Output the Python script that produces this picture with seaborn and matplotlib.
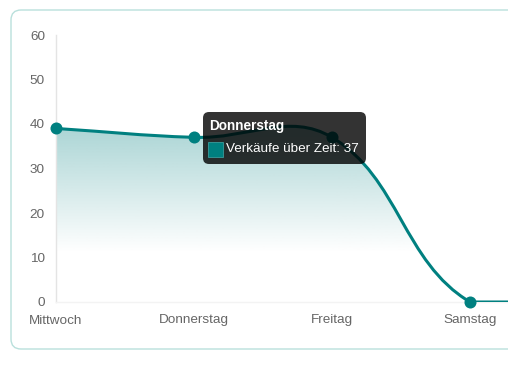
import numpy as np
import seaborn as sns
import matplotlib.pyplot as plt
from matplotlib.path import Path
from matplotlib.patches import PathPatch, FancyBboxPatch, Rectangle
from matplotlib.transforms import IdentityTransform

days = ['Mittwoch', 'Donnerstag', 'Freitag', 'Samstag', 'Sonntag']
verkaeufe = [39, 37, 37, 0, 0]
series_label = 'Verkäufe über Zeit'
hover = 1  # tooltip shown for Donnerstag
y_ticks = [0, 10, 20, 30, 40, 50, 60]
n_visible = 4  # the last day lies past the right edge of the picture

teal = '#008080'
tick_col = '#666666'

sns.set_style('white')
plt.rcParams['font.family'] = ['Liberation Sans', 'DejaVu Sans']

W, H = 508, 371
fig = plt.figure(figsize=(W / 100, H / 100), dpi=100)
px = IdentityTransform()  # display pixels, origin bottom left

# card behind the chart (runs off the right edge)
card = FancyBboxPatch((11, H - 349), 540, 339, boxstyle='round,pad=0,rounding_size=10',
                      transform=px, fc='white', ec='#b9e0dc', lw=1.0, zorder=-1)
fig.add_artist(card)

# axes: x=0 at 56px, 138px per day, so last day sits past the edge
ax = fig.add_axes([56 / W, (H - 302) / H, 552 / W, 267 / H])
ax.patch.set_alpha(0)
x = np.arange(len(days))
ax.set_xlim(0, len(days) - 1)
ax.set_ylim(0, 60)

# chart.js style bezier (tension 0.4), worked out in pixel space
pts = ax.transData.transform(np.column_stack([x, verkaeufe]))
bb = ax.bbox
t = 0.4
cp_prev, cp_next = [], []
for i, p in enumerate(pts):
    prev = pts[i - 1] if i > 0 else p
    nxt = pts[i + 1] if i < len(pts) - 1 else p
    d01 = np.hypot(*(p - prev))
    d12 = np.hypot(*(nxt - p))
    s01 = d01 / (d01 + d12) if d01 + d12 else 0
    s12 = d12 / (d01 + d12) if d01 + d12 else 0
    a = p - t * s01 * (nxt - prev)
    b = p + t * s12 * (nxt - prev)
    for c in (a, b):
        c[0] = min(max(c[0], bb.x0), bb.x1)
        c[1] = min(max(c[1], bb.y0), bb.y1)
    cp_prev.append(a)
    cp_next.append(b)

inv = ax.transData.inverted()
verts = [pts[0]]
codes = [Path.MOVETO]
for i in range(len(pts) - 1):
    verts += [cp_next[i], cp_prev[i + 1], pts[i + 1]]
    codes += [Path.CURVE4] * 3
verts = inv.transform(np.array(verts))

line = PathPatch(Path(verts, codes), fill=False, ec=teal, lw=2.2, zorder=3,
                 capstyle='round', joinstyle='round')
ax.add_patch(line)

# gradient fill under the curve
fv = np.vstack([verts, [[x[-1], 0], [x[0], 0], verts[0]]])
fc = codes + [Path.LINETO, Path.LINETO, Path.CLOSEPOLY]
area = PathPatch(Path(fv, fc), fc='none', ec='none')
ax.add_patch(area)
yy = np.linspace(60, 0, 300)
alpha = np.clip((yy - 11) / 29, 0, 1) * 0.34
grad = np.zeros((300, 1, 4))
grad[..., 0], grad[..., 1], grad[..., 2] = 0, 128 / 255, 128 / 255
grad[:, 0, 3] = alpha
img = ax.imshow(grad, extent=[x[0], x[-1], 0, 60], aspect='auto', zorder=1,
                interpolation='bilinear')
img.set_clip_path(area)

sns.scatterplot(x=x, y=verkaeufe, ax=ax, color=teal, s=75, edgecolor=teal,
                linewidth=0, zorder=4, clip_on=False, legend=False)

ax.set_xticks(x[:n_visible], days[:n_visible])
ax.set_yticks(y_ticks)
ax.tick_params(axis='both', length=0, colors=tick_col, labelsize=9.7)
ax.tick_params(axis='x', pad=9)
ax.tick_params(axis='y', pad=8)
ax.set_xlim(0, len(days) - 1)
ax.set_ylim(0, 60)
for s in ('top', 'right'):
    ax.spines[s].set_visible(False)
ax.spines['left'].set_color('#e4e4e4')
ax.spines['left'].set_linewidth(1)
ax.spines['bottom'].set_color('#f3f3f3')
ax.spines['bottom'].set_linewidth(1)
ax.grid(False)

# tooltip
tip = FancyBboxPatch((203, H - 164), 163, 52, boxstyle='round,pad=0,rounding_size=6',
                     transform=px, fc='black', ec='none', alpha=0.8, zorder=10)
fig.add_artist(tip)
fig.text(209, H - 126, days[hover], transform=px, color='white', fontsize=9.8,
         fontweight='bold', va='center', ha='left', zorder=11)
sw = Rectangle((208, H - 157), 15, 15, transform=px, fc=teal, ec='#3a9c9c', lw=0.6, zorder=11)
fig.add_artist(sw)
fig.text(226, H - 149, f'{series_label}: {verkaeufe[hover]}', transform=px, color='white',
         fontsize=9.7, va='center', ha='left', zorder=11)

fig.savefig('out.png', dpi=100)
